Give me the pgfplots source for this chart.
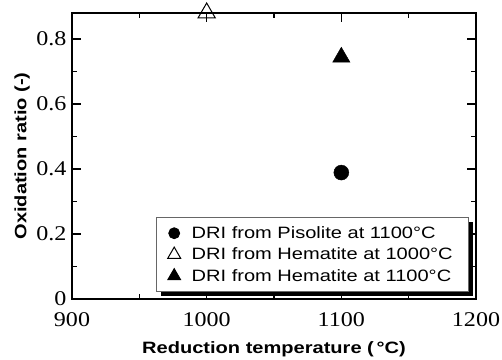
\documentclass[border=0pt]{standalone}
\usepackage{pgfplots}
\pgfplotsset{compat=1.18}
\usepackage{fontspec}
\setmainfont{Liberation Sans}
\newfontfamily\wide[FakeStretch=1.22]{Liberation Sans}
\newfontfamily\tms[FakeStretch=1.15]{Liberation Serif}
\usetikzlibrary{shadows}
\begin{document}
\begin{tikzpicture}
\useasboundingbox (-72bp,-61bp) rectangle (430bp,299bp);
\begin{axis}[
  scale only axis,
  width=404bp, height=286bp,
  xmin=900, xmax=1200, ymin=0, ymax=0.88,
  xtick={900,1000,1100,1200},
  ytick={0,0.2,0.4,0.6,0.8},
  minor xtick={950,1050,1150},
  minor ytick={0.1,0.3,0.5,0.7},
  yticklabels={0,0.2,0.4,0.6,0.8},
  xticklabels={900,1000,1100,1200},
  tick align=inside,
  major tick length=9bp,
  minor tick length=5bp,
  every tick/.style={black, line width=1.2bp},
  axis line style={line width=1.3bp},
  ticklabel style={font=\tms\fontsize{21}{23}\selectfont},
  xticklabel style={inner ysep=0pt, yshift=-13bp},
  yticklabel style={inner xsep=0pt, xshift=-5.3bp},
  /pgf/number format/assume math mode=true,
  xlabel={\bfseries Reduction temperature (\,\textdegree C)},
  ylabel={\bfseries Oxidation ratio (-)},
  label style={font=\wide\fontsize{16.5}{18}\selectfont},
  xlabel style={yshift=-12bp},
  ylabel style={yshift=3bp},
  clip=false,
  legend cell align=left,
  legend style={at={(0.983,0.024)}, anchor=south east, draw=black!60, line width=0.8bp, fill=white,
    font=\wide\fontsize{16.5}{18}\selectfont, row sep=4bp, column sep=6bp, inner xsep=11bp, inner ysep=7bp,
    nodes={inner ysep=2bp, inner xsep=5bp},
    drop shadow={shadow xshift=4bp, shadow yshift=-4bp, fill=black, opacity=1}},
]
\addplot[only marks, mark=*, mark size=7.5bp, black, legend image post style={mark size=5.5bp}]
  coordinates {(1100,0.389)};
\addlegendentry{DRI from Pisolite at 1100\textdegree C}
\addplot[only marks, mark=triangle, mark size=10bp, black, line width=1bp, legend image post style={mark size=7.5bp}]
  coordinates {(1000,0.88)};
\addlegendentry{DRI from Hematite at 1000\textdegree C}
\addplot[only marks, mark=triangle*, mark size=10bp, black, legend image post style={mark size=7.5bp}]
  coordinates {(1100,0.744)};
\addlegendentry{DRI from Hematite at 1100\textdegree C}
\end{axis}
\end{tikzpicture}
\end{document}
